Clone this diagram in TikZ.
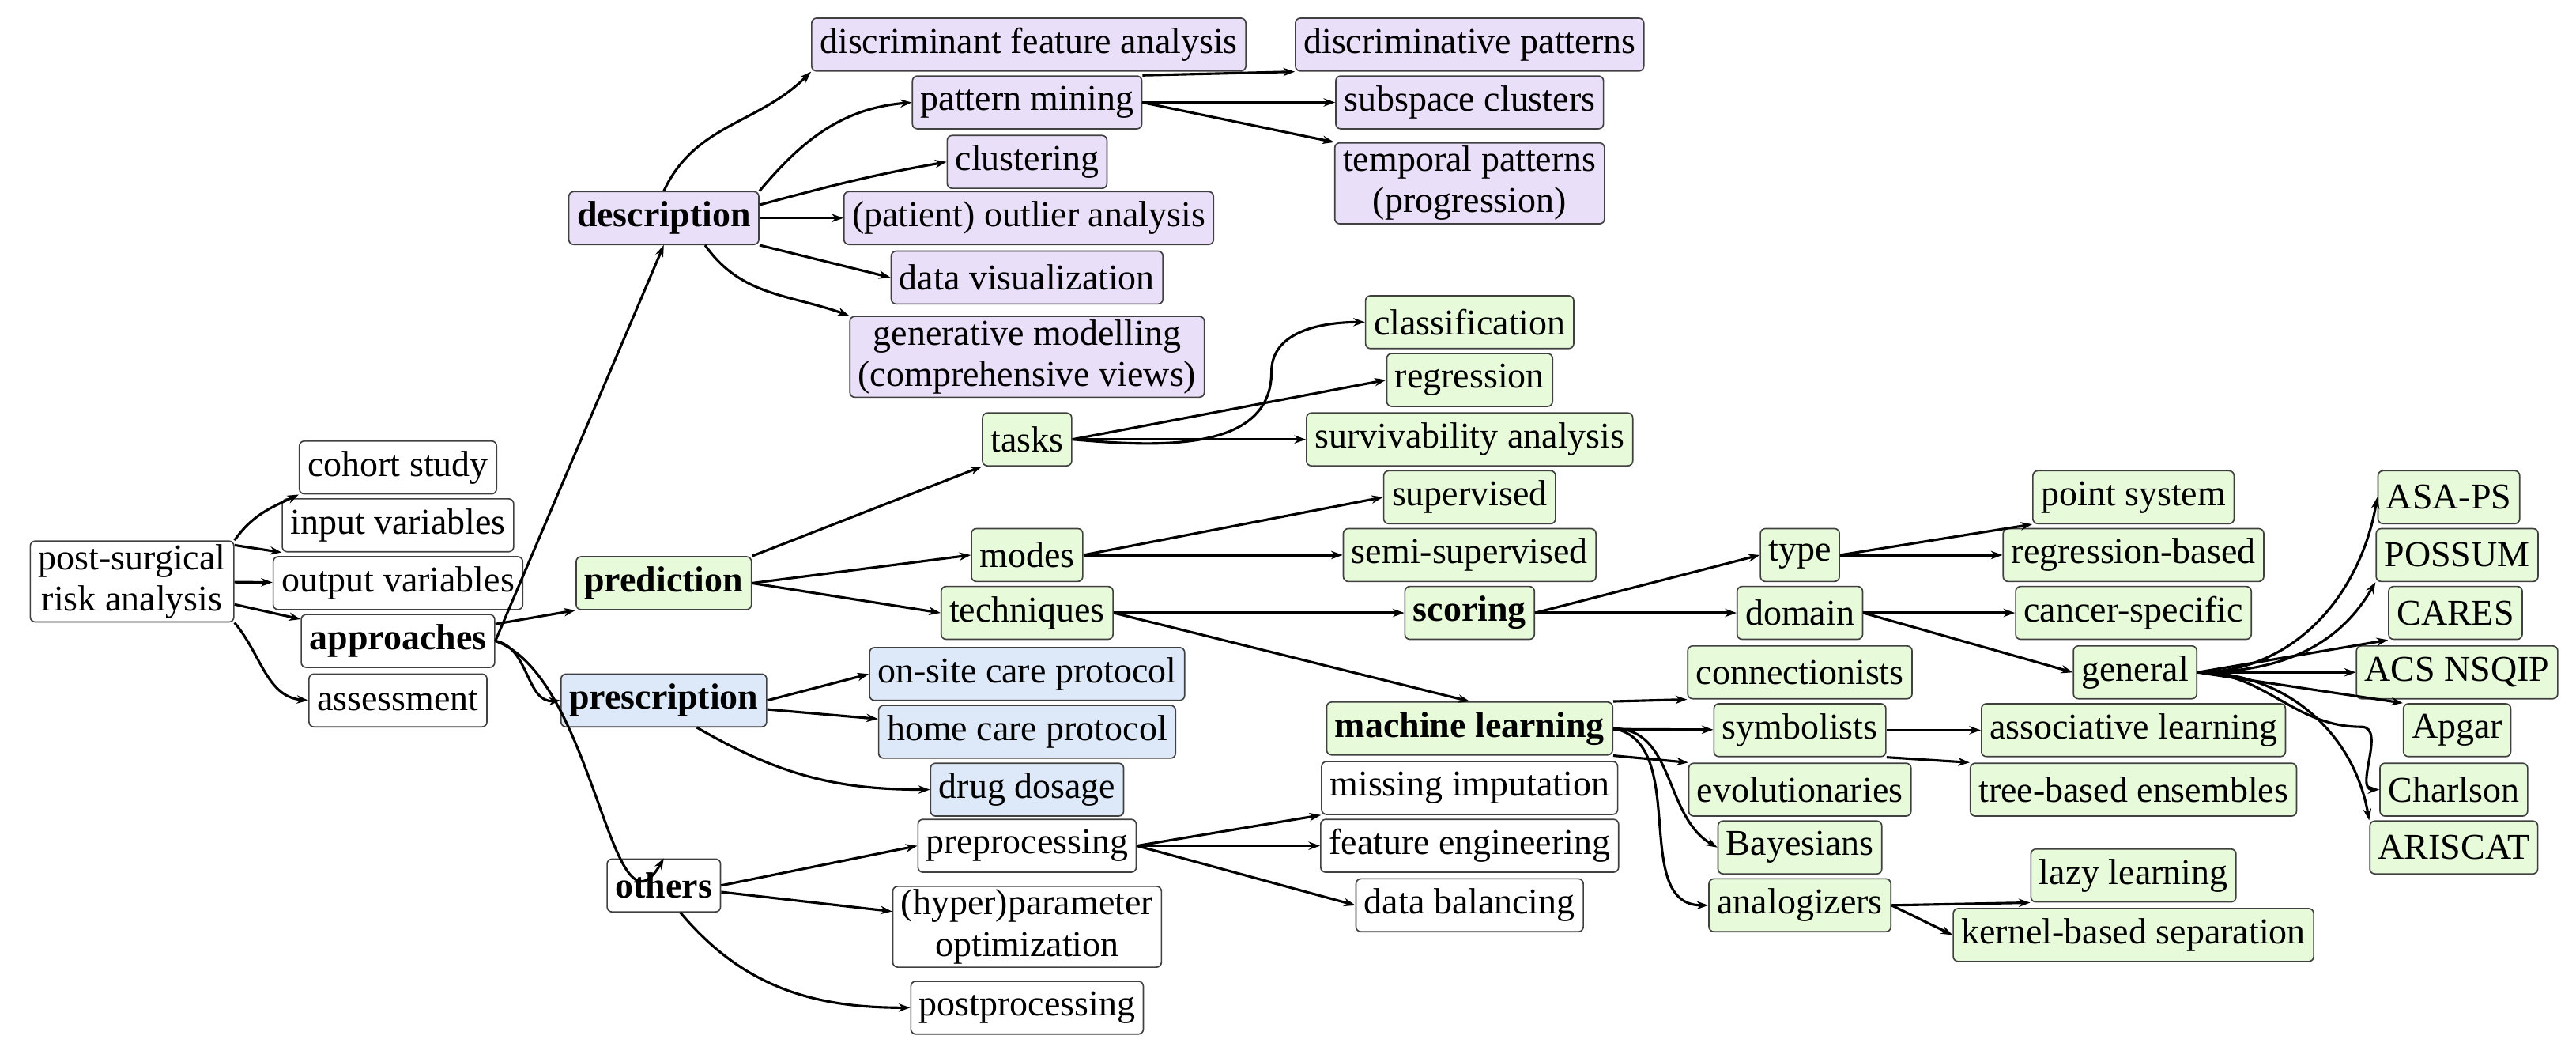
\documentclass[tikz,border=0pt]{standalone}
\usepackage{fontspec}
\setmainfont{Liberation Serif}
\usetikzlibrary{arrows.meta}
\definecolor{pur}{HTML}{EADFF8}
\definecolor{grn}{HTML}{E7FADA}
\definecolor{blu}{HTML}{DDE9F9}
\begin{document}
\begin{tikzpicture}[x=0.5pt,y=-0.5pt,
  b/.style={draw=black!75,line width=0.4pt,rounded corners=1.5pt,inner xsep=2.5pt,inner ysep=1pt,minimum height=16pt,font=\fontsize{11}{12.5}\selectfont,align=center,fill=white},
  p/.style={b,fill=pur},g/.style={b,fill=grn},q/.style={b,fill=blu},
  bf/.style={font=\fontsize{11}{12.5}\selectfont\bfseries},
  e/.style={-{Stealth[length=3.5pt,width=2.5pt]},line width=0.75pt}]
\useasboundingbox (0,0) rectangle (1560,631);
\node[b] (root) at (80,352) {post-surgical\\risk analysis};
\node[b] (coh) at (241,283) {cohort study};
\node[b] (inp) at (241,318) {input variables};
\node[b] (out) at (241,353) {output variables};
\node[b,bf] (app) at (241,388) {approaches};
\node[b] (ass) at (241,424) {assessment};
\node[p,bf] (des) at (402,132) {description};
\node[p] (dfa) at (623,27) {discriminant feature analysis};
\node[p] (dp) at (890,27) {discriminative patterns};
\node[p] (pm) at (622,62) {pattern mining};
\node[p] (sc) at (890,62) {subspace clusters};
\node[p] (tp) at (890,111) {temporal patterns\\(progression)};
\node[p] (clu) at (622,98) {clustering};
\node[p] (poa) at (623,132) {(patient) outlier analysis};
\node[p] (dv) at (622,168) {data visualization};
\node[p] (gm) at (622,216) {generative modelling\\(comprehensive views)};
\node[g,bf] (pre) at (402,353) {prediction};
\node[g] (tasks) at (622,266) {tasks};
\node[g] (cls) at (890,195) {classification};
\node[g] (reg) at (890,230) {regression};
\node[g] (surv) at (890,266) {survivability analysis};
\node[g] (modes) at (622,336) {modes};
\node[g] (sup) at (890,301) {supervised};
\node[g] (ssup) at (890,336) {semi-supervised};
\node[g] (tech) at (622,371) {techniques};
\node[g,bf] (scor) at (890,371) {scoring};
\node[g,bf] (ml) at (890,441) {machine learning};
\node[g] (type) at (1090,336) {type};
\node[g] (dom) at (1090,371) {domain};
\node[g] (ps) at (1292,301) {point system};
\node[g] (rb) at (1292,336) {regression-based};
\node[g] (cs) at (1292,371) {cancer-specific};
\node[g] (gen) at (1293,407) {general};
\node[g] (con) at (1090,407) {connectionists};
\node[g] (sym) at (1090,442) {symbolists};
\node[g] (evo) at (1090,478) {evolutionaries};
\node[g] (bay) at (1090,513) {Bayesians};
\node[g] (ana) at (1090,548) {analogizers};
\node[g] (asl) at (1292,442) {associative learning};
\node[g] (tbe) at (1292,478) {tree-based ensembles};
\node[g] (lazy) at (1292,530) {lazy learning};
\node[g] (kbs) at (1292,566) {kernel-based separation};
\node[g] (asa) at (1483,301) {ASA-PS};
\node[g] (pos) at (1488,336) {POSSUM};
\node[g] (car) at (1487,371) {CARES};
\node[g] (acs) at (1488,407) {ACS NSQIP};
\node[g] (apg) at (1488,442) {Apgar};
\node[g] (cha) at (1486,478) {Charlson};
\node[g] (ari) at (1486,513) {ARISCAT};
\node[q,bf] (prs) at (402,424) {prescription};
\node[q] (ons) at (622,408) {on-site care protocol};
\node[q] (hcp) at (622,443) {home care protocol};
\node[q] (dd) at (622,478) {drug dosage};
\node[b,bf] (oth) at (402,536) {others};
\node[b] (pp) at (622,512) {preprocessing};
\node[b] (hpo) at (622,561) {(hyper)parameter\\optimization};
\node[b] (post) at (622,610) {postprocessing};
\node[b] (mi) at (890,477) {missing imputation};
\node[b] (fe) at (890,512) {feature engineering};
\node[b] (db) at (890,548) {data balancing};

\draw[e] (root.north east) to[out=55,in=205] (coh.south west);
\draw[e] (root.east|-inp.west) ++(0,12) -- (inp.south west);
\draw[e] (root) -- (out);
\draw[e] (root) -- (app);
\draw[e] (root.south east) to[out=-50,in=175] (ass.west);
\draw[e] (app.east) -- (des.south);
\draw[e] (app) -- (pre.south west);
\draw[e] (app.east) to[out=-10,in=185] (prs.west);
\draw[e] (app.east) to[out=-20,in=-120] (oth.north);

\draw[e] (des.north) to[out=65,in=225] (dfa.south west);
\draw[e] (des.north east) to[out=50,in=185] (pm.west);
\draw[e] (des.east) ++(0,-8) to[out=15,in=190] (clu.west);
\draw[e] (des) -- (poa);
\draw[e] (des.south east) -- (dv.west);
\draw[e] (des.south) ++(25,0) to[out=-55,in=160] (gm.north west);
\draw[e] (pm.north east) -- (dp.south west);
\draw[e] (pm) -- (sc);
\draw[e] (pm.east) -- (tp.north west);

\draw[e] (pre.north east) -- (tasks.south west);
\draw[e] (pre.east) -- (modes.west);
\draw[e] (pre.east) -- (tech.west);
\draw[e] (tasks.east) to[out=-5,in=-90] (770,225) to[out=90,in=180] (cls.west);
\draw[e] (tasks.east) -- (reg.west);
\draw[e] (tasks) -- (surv);
\draw[e] (modes.east) -- (sup.west);
\draw[e] (modes) -- (ssup);
\draw[e] (tech) -- (scor);
\draw[e] (tech.east) -- (ml.north);
\draw[e] (scor.east) -- (type.west);
\draw[e] (scor) -- (dom);
\draw[e] (type.east) -- (ps.south west);
\draw[e] (type) -- (rb);
\draw[e] (dom) -- (cs);
\draw[e] (dom.east) -- (gen.west);
\draw[e] (gen.east) to[out=0,in=-100] (asa.west);
\draw[e] (gen.east) to[out=0,in=-120] (pos.south west);
\draw[e] (gen.east) -- (car.south west);
\draw[e] (gen) -- (acs);
\draw[e] (gen.east) -- (apg.north west);
\draw[e] (gen.east) to[out=0,in=180] (1430,440) to[out=0,in=180] (cha.west);
\draw[e] (gen.east) to[out=0,in=100] (ari.north west);

\draw[e] (ml.north east) -- (con.south west);
\draw[e] (ml) -- (sym);
\draw[e] (ml.south east) -- (evo.north west);
\draw[e] (ml.east) to[out=0,in=150] (bay.west);
\draw[e] (ml.east) to[out=-10,in=180] (ana.west);
\draw[e] (sym) -- (asl);
\draw[e] (sym.south east) -- (tbe.north west);
\draw[e] (ana.east) -- (lazy.south west);
\draw[e] (ana.east) -- (kbs.west);

\draw[e] (prs.east) -- (ons.west);
\draw[e] (prs) -- (hcp);
\draw[e] (prs.south) ++(20,0) to[out=-30,in=180] (dd.west);
\draw[e] (oth.east) -- (pp.west);
\draw[e] (oth) -- (hpo);
\draw[e] (oth.south) ++(10,0) to[out=-50,in=180] (post.west);
\draw[e] (pp.east) -- (mi.south west);
\draw[e] (pp) -- (fe);
\draw[e] (pp.east) -- (db.west);
\end{tikzpicture}
\end{document}
